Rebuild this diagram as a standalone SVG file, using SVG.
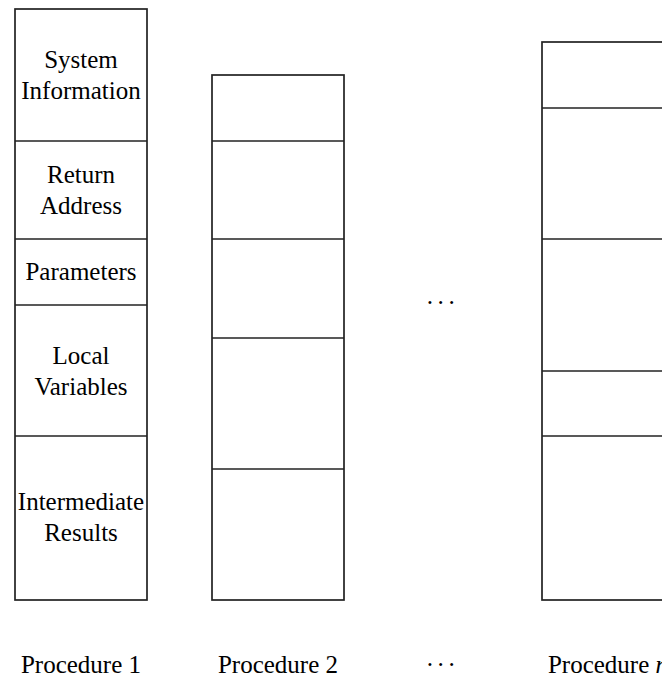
<svg xmlns="http://www.w3.org/2000/svg" width="662" height="678" viewBox="0 0 662 678">
<style>
.box{fill:#fff;stroke:#222;stroke-width:1.7}
.div{stroke:#222;stroke-width:1.7}
text{font-family:"Liberation Serif","Times New Roman",serif;font-size:25px;fill:#000;text-anchor:middle}
.dots{letter-spacing:2.5px}
</style>
<rect width="662" height="678" fill="#fff"/>
<g id="procedure1">
<rect class="box" x="15" y="9" width="132" height="591"/>
<line class="div" x1="15" y1="141" x2="147" y2="141"/>
<line class="div" x1="15" y1="239" x2="147" y2="239"/>
<line class="div" x1="15" y1="305" x2="147" y2="305"/>
<line class="div" x1="15" y1="436" x2="147" y2="436"/>
<text x="81" y="68">System</text>
<text x="81" y="99">Information</text>
<text x="81" y="183">Return</text>
<text x="81" y="214">Address</text>
<text x="81" y="280">Parameters</text>
<text x="81" y="364">Local</text>
<text x="81" y="395">Variables</text>
<text x="81" y="510">Intermediate</text>
<text x="81" y="541">Results</text>
<text x="81" y="673">Procedure 1</text>
</g>
<g id="procedure2">
<rect class="box" x="212" y="75" width="132" height="525"/>
<line class="div" x1="212" y1="141" x2="344" y2="141"/>
<line class="div" x1="212" y1="239" x2="344" y2="239"/>
<line class="div" x1="212" y1="338" x2="344" y2="338"/>
<line class="div" x1="212" y1="469" x2="344" y2="469"/>
<text x="278" y="673">Procedure 2</text>
</g>
<g id="ellipsis">
<text class="dots" x="442" y="311">···</text>
<text class="dots" x="442" y="673">···</text>
</g>
<g id="procedureN">
<rect class="box" x="542" y="42" width="132" height="558"/>
<line class="div" x1="542" y1="108" x2="674" y2="108"/>
<line class="div" x1="542" y1="239" x2="674" y2="239"/>
<line class="div" x1="542" y1="371" x2="674" y2="371"/>
<line class="div" x1="542" y1="436" x2="674" y2="436"/>
<text x="608" y="673">Procedure <tspan font-style="italic">n</tspan></text>
</g>
<g id="connectors"/>
</svg>
